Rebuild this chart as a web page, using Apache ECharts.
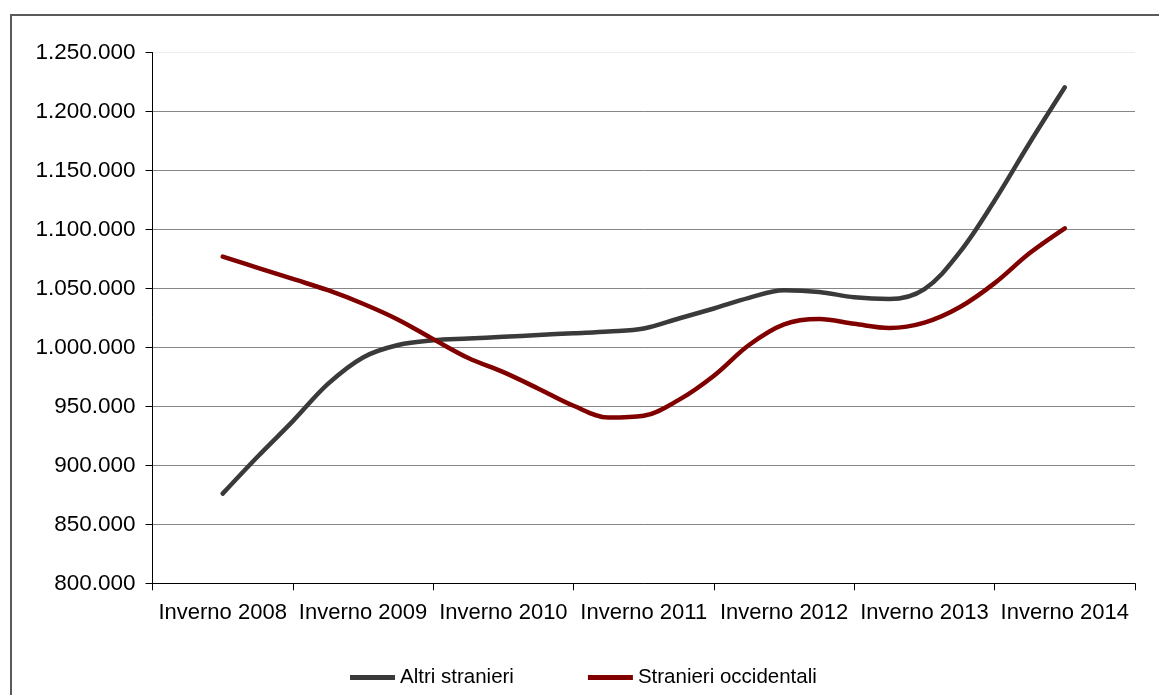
<!DOCTYPE html>
<html>
<head>
<meta charset="utf-8">
<script src="https://cdn.jsdelivr.net/npm/echarts@6/dist/echarts.min.js"></script>
<style>
  html, body { margin: 0; padding: 0; background: #fff; }
  #chart { width: 1159px; height: 695px; }
</style>
</head>
<body>
<div id="chart"></div>
<script>
// anni mostrati sull'asse
const years = ['Inverno 2008', 'Inverno 2009', 'Inverno 2010', 'Inverno 2011', 'Inverno 2012', 'Inverno 2013', 'Inverno 2014']
// trimestri (un punto per stagione)
const quarters = [
  'Inv 2008', 'Pri 2008', 'Est 2008', 'Aut 2008',
  'Inv 2009', 'Pri 2009', 'Est 2009', 'Aut 2009',
  'Inv 2010', 'Pri 2010', 'Est 2010', 'Aut 2010',
  'Inv 2011', 'Pri 2011', 'Est 2011', 'Aut 2011',
  'Inv 2012', 'Pri 2012', 'Est 2012', 'Aut 2012',
  'Inv 2013', 'Pri 2013', 'Est 2013', 'Aut 2013',
  'Inv 2014'
]
const altriStranieri = [
  876000, 907500, 937500, 969000, 991500, 1002000, 1006000, 1007500,
  1009000, 1010500, 1012000, 1013500, 1016000, 1024500, 1033000, 1042000,
  1048500, 1047000, 1042500, 1041000, 1049500, 1080500, 1124500, 1173500,
  1220500
]
const stranieriOccidentali = [
  1077000, 1067500, 1058000, 1048500, 1037000, 1023500, 1007000, 991000,
  979000, 965000, 950500, 940500, 942000, 955500, 976000, 1002000,
  1019500, 1024000, 1020000, 1016500, 1021000, 1034000, 1054500, 1080000,
  1101000
]
const yTicks = { min: 800000, max: 1250000, step: 50000 }

const FONT = '"Liberation Sans", Arial, sans-serif'

// posizione del trimestre sull'asse degli anni (0 = Inverno 2008)
const toPoints = values => values.map((v, i) => [i / 4, v])

const fmt = v => String(v).replace(/\B(?=(\d{3})+(?!\d))/g, '.')

const chart = echarts.init(document.getElementById('chart'), null, { renderer: 'canvas' })

const option = {
  backgroundColor: '#ffffff',
  animation: false,
  textStyle: { fontFamily: FONT },
  graphic: [
    {
      type: 'rect',
      shape: { x: 11, y: 15, width: 1200, height: 720 },
      style: { fill: 'none', stroke: '#5a5a5a', lineWidth: 2 },
      silent: true,
      z: -1
    }
  ],
  grid: {
    left: 152.5,
    right: 24,
    top: 52.5,
    bottom: 111.7,
    containLabel: false
  },
  legend: {
    left: 350,
    top: 667,
    padding: 0,
    itemWidth: 45,
    itemHeight: 5,
    itemGap: 74,
    icon: 'rect',
    textStyle: { fontFamily: FONT, fontSize: 20.5, color: '#000' },
    data: ['Altri stranieri', 'Stranieri occidentali']
  },
  xAxis: [
    {
      type: 'category',
      data: years,
      boundaryGap: true,
      axisLine: { onZero: false, lineStyle: { color: '#000', width: 1 } },
      axisTick: { show: true, length: 7, lineStyle: { color: '#000' } },
      axisLabel: { fontFamily: FONT, fontSize: 22, color: '#000', margin: 19, interval: 0 },
      splitLine: { show: false }
    },
    {
      type: 'value',
      min: -0.5,
      max: 6.5,
      show: false,
      splitLine: { show: false }
    }
  ],
  yAxis: {
    type: 'value',
    position: 'left',
    min: yTicks.min,
    max: yTicks.max,
    interval: yTicks.step,
    axisLine: { show: true, onZero: false, lineStyle: { color: '#000', width: 1 } },
    axisTick: { show: true, length: 7, lineStyle: { color: '#000' } },
    axisLabel: { fontFamily: FONT, fontSize: 22.5, color: '#000', margin: 17, formatter: fmt },
    splitLine: {
      show: true,
      lineStyle: {
        color: ['#868686', '#868686', '#868686', '#868686', '#868686',
          '#868686', '#868686', '#868686', '#868686', '#ececec'],
        width: 1
      }
    }
  },
  series: [
    {
      name: 'Altri stranieri',
      type: 'line',
      xAxisIndex: 1,
      data: toPoints(altriStranieri),
      smooth: 0.35,
      showSymbol: false,
      symbol: 'none',
      color: '#3a3a3a',
      lineStyle: { color: '#3a3a3a', width: 4.5, cap: 'round', join: 'round' }
    },
    {
      name: 'Stranieri occidentali',
      type: 'line',
      xAxisIndex: 1,
      data: toPoints(stranieriOccidentali),
      smooth: 0.35,
      showSymbol: false,
      symbol: 'none',
      color: '#800000',
      lineStyle: { color: '#800000', width: 4.5, cap: 'round', join: 'round' }
    }
  ]
}

chart.setOption(option)
</script>
</body>
</html>
